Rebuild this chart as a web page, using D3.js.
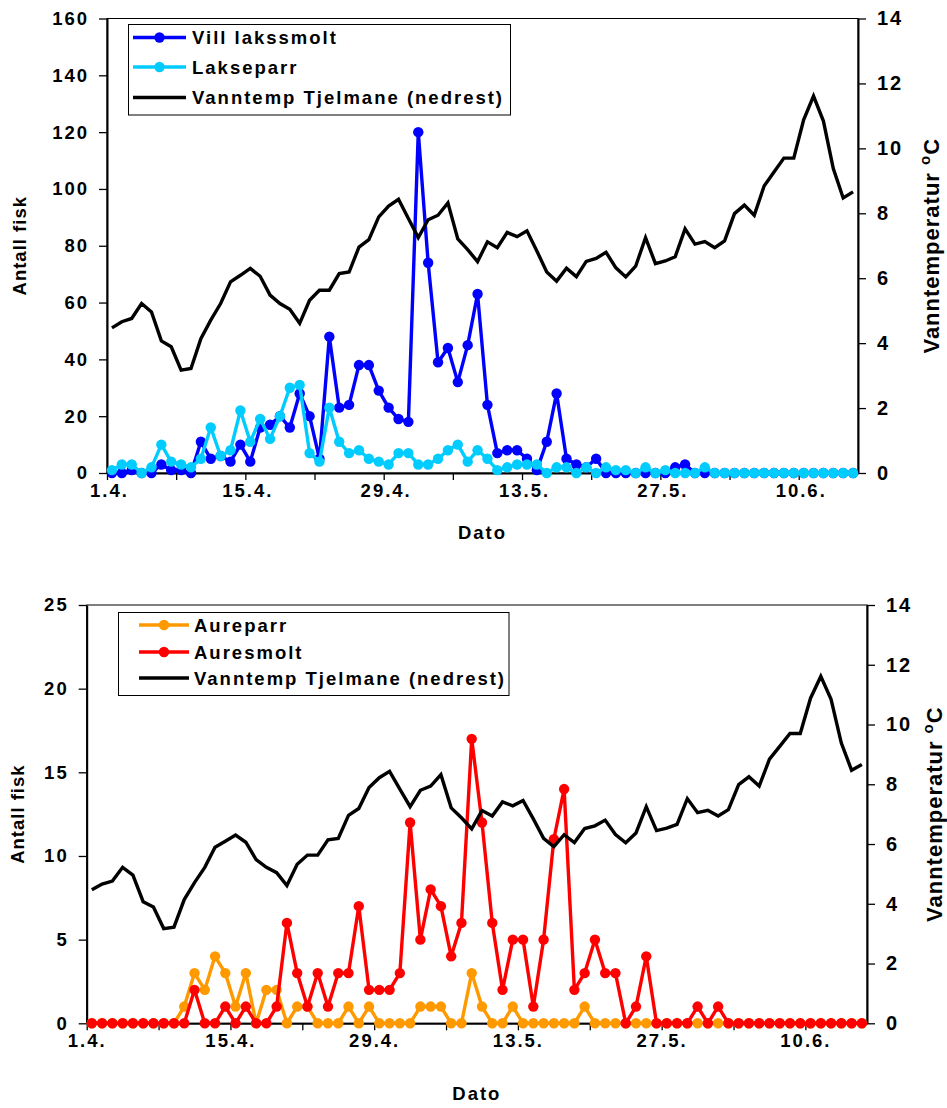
<!DOCTYPE html>
<html><head><meta charset="utf-8">
<script src="https://cdn.jsdelivr.net/npm/d3@7"></script>
<style>
body{margin:0;background:#fff;}
svg text{font-family:"Liberation Sans",Arial,sans-serif;font-weight:bold;fill:#000;}
</style></head><body>
<svg id="c" width="947" height="1108"></svg>
<script>
// ---- data ----
const dates = ["1.4.","2.4.","3.4.","4.4.","5.4.","6.4.","7.4.","8.4.","9.4.","10.4.",
"11.4.","12.4.","13.4.","14.4.","15.4.","16.4.","17.4.","18.4.","19.4.","20.4.",
"21.4.","22.4.","23.4.","24.4.","25.4.","26.4.","27.4.","28.4.","29.4.","30.4.",
"1.5.","2.5.","3.5.","4.5.","5.5.","6.5.","7.5.","8.5.","9.5.","10.5.",
"11.5.","12.5.","13.5.","14.5.","15.5.","16.5.","17.5.","18.5.","19.5.","20.5.",
"21.5.","22.5.","23.5.","24.5.","25.5.","26.5.","27.5.","28.5.","29.5.","30.5.",
"31.5.","1.6.","2.6.","3.6.","4.6.","5.6.","6.6.","7.6.","8.6.","9.6.",
"10.6.","11.6.","12.6.","13.6.","14.6.","15.6."];
const tickLabels = ["1.4.","15.4.","29.4.","13.5.","27.5.","10.6."];

const vannTemp = [4.47,4.66,4.76,5.22,4.96,4.07,3.89,3.17,3.22,4.14,
4.71,5.22,5.89,6.09,6.30,6.06,5.48,5.22,5.04,4.61,
5.32,5.63,5.63,6.14,6.19,6.96,7.19,7.89,8.22,8.43,
7.84,7.25,7.80,7.94,8.32,7.21,6.88,6.51,7.12,6.94,
7.41,7.28,7.46,6.84,6.19,5.91,6.31,6.05,6.52,6.61,
6.80,6.32,6.04,6.37,7.25,6.45,6.53,6.66,7.52,7.05,
7.13,6.94,7.15,7.99,8.25,7.94,8.84,9.27,9.70,9.70,
10.88,11.61,10.84,9.38,8.47,8.66];

const villLakssmolt = [0,0,1,0,0,3,1,1,0,11,
5,6,4,10,4,16,17,20,16,28,
20,5,48,23,24,38,38,29,23,19,
18,120,74,39,44,32,45,63,24,7,
8,8,5,1,11,28,5,3,2,5,
0,0,0,0,0,0,0,2,3,0,
0,0,0,0,0,0,0,0,0,0,
0,0,0,0,0,0];
const lakseparr = [1,3,3,0,2,10,4,3,2,5,
16,6,8,22,11,19,12,20,30,31,
7,4,23,11,7,8,5,4,3,7,
7,3,3,5,8,10,4,8,5,1,
2,3,3,3,0,2,2,0,2,0,
2,1,1,0,2,0,1,0,0,0,
2,0,0,0,0,0,0,0,0,0,
0,0,0,0,0,0];
const aureparr = [0,0,0,0,0,0,0,0,0,1,
3,2,4,3,1,3,0,2,2,0,
1,1,0,0,0,1,0,1,0,0,
0,0,1,1,1,0,0,3,1,0,
0,1,0,0,0,0,0,0,1,0,
0,0,0,0,0,0,0,0,0,0,
0,0,0,0,0,0,0,0,0,0,
0,0,0,0,0,0];
const auresmolt = [0,0,0,0,0,0,0,0,0,0,
2,0,0,1,0,1,0,0,1,6,
3,1,3,1,3,3,7,2,2,2,
3,12,5,8,7,4,6,17,12,6,
2,5,5,1,5,11,14,2,3,5,
3,3,0,1,4,0,0,0,0,1,
0,1,0,0,0,0,0,0,0,0,
0,0,0,0,0,0];

const tempName = "Vanntemp Tjelmane (nedrest)";

// ---- drawing ----
const svg = d3.select("#c");
const FS = 18.5, LS = "2px", LW = 3.4, MR = 5.2;

function panel(cfg){
  const g = svg.append("g");
  const x = d3.scaleLinear().domain([0, dates.length]).range([cfg.left, cfg.right]);
  const yL = d3.scaleLinear().domain([0, cfg.yMax]).range([cfg.bottom, cfg.top]);
  const yR = d3.scaleLinear().domain([0, 14]).range([cfg.bottom, cfg.top]);

  g.append("rect").attr("x", cfg.left).attr("y", cfg.top)
    .attr("width", cfg.right - cfg.left).attr("height", cfg.bottom - cfg.top)
    .attr("fill", "none").attr("stroke", "#000").attr("stroke-width", 1);

  const styleAxis = (ax, sw) => {
    ax.select(".domain").attr("stroke", "#000").attr("stroke-width", sw);
    ax.selectAll(".tick line").attr("stroke", "#000").attr("stroke-width", 1.3);
    ax.selectAll("text").attr("font-size", FS).attr("letter-spacing", LS)
      .attr("font-family", "Liberation Sans, Arial, sans-serif").attr("font-weight", "bold").attr("fill", "#000");
  };

  const axL = g.append("g").attr("transform", `translate(${cfg.left},0)`)
    .call(d3.axisLeft(yL).tickValues(d3.range(0, cfg.yMax + 1, cfg.yStep)).tickSize(8).tickSizeOuter(0).tickPadding(10));
  styleAxis(axL, 2);
  const axR = g.append("g").attr("transform", `translate(${cfg.right},0)`)
    .call(d3.axisRight(yR).tickValues(d3.range(0, 15, 2)).tickSize(8).tickSizeOuter(0).tickPadding(11));
  styleAxis(axR, 2);
  axR.selectAll("text").attr("font-size", 20);
  const axB = g.append("g").attr("transform", `translate(0,${cfg.bottom})`)
    .call(d3.axisBottom(x).tickValues(d3.range(0, 71, 7)).tickSize(7).tickSizeOuter(0).tickPadding(cfg.xPad)
      .tickFormat(i => tickLabels.includes(dates[i]) ? dates[i] : ""));
  styleAxis(axB, 2);
  axB.selectAll("text").attr("dx", cfg.xLabDx);

  g.append("text").attr("x", (cfg.left + cfg.right) / 2).attr("y", cfg.datoY)
    .attr("text-anchor", "middle").attr("font-size", FS).attr("letter-spacing", LS).text("Dato");
  g.append("text").attr("transform", `translate(${cfg.leftTitleX},${(cfg.top + cfg.bottom) / 2}) rotate(-90)`)
    .attr("text-anchor", "middle").attr("font-size", FS).attr("letter-spacing", "1px").text("Antall fisk");
  const rt = g.append("text").attr("transform", `translate(${cfg.rightTitleX},${(cfg.top + cfg.bottom) / 2}) rotate(-90)`)
    .attr("text-anchor", "middle").attr("font-size", 22).attr("font-weight", "normal").attr("letter-spacing", "1px");
  rt.append("tspan").text("Vanntemperatur  ");
  rt.append("tspan").attr("font-size", 15).attr("dy", -9).text("o");
  rt.append("tspan").attr("dy", 9).attr("font-weight", "bold").text("C");

  const plotG = g.append("g");
  cfg.series.forEach(s => {
    const line = d3.line().x((d, i) => x(i + 0.5)).y(d => yL(d));
    plotG.append("path").datum(s.values).attr("d", line)
      .attr("fill", "none").attr("stroke", s.color).attr("stroke-width", LW).attr("stroke-linejoin", "round");
    plotG.selectAll(null).data(s.values).enter().append("circle")
      .attr("cx", (d, i) => x(i + 0.5)).attr("cy", d => yL(d)).attr("r", MR).attr("fill", s.color);
  });
  const tline = d3.line().x((d, i) => x(i + 0.5)).y(d => yR(d));
  plotG.append("path").datum(vannTemp).attr("d", tline)
    .attr("fill", "none").attr("stroke", "#000").attr("stroke-width", LW).attr("stroke-linejoin", "miter");

  const L = cfg.legend;
  const lg = g.append("g");
  lg.append("rect").attr("x", L.x).attr("y", L.y).attr("width", L.w).attr("height", L.h)
    .attr("fill", "#fff").attr("stroke", "#000").attr("stroke-width", 1);
  const items = cfg.series.map(s => ({name: s.name, color: s.color, marker: true}))
    .concat([{name: tempName, color: "#000", marker: false}]);
  items.forEach((it, k) => {
    const yy = L.rows[k];
    lg.append("line").attr("x1", L.x0).attr("x2", L.x1).attr("y1", yy).attr("y2", yy)
      .attr("stroke", it.color).attr("stroke-width", LW);
    if (it.marker) lg.append("circle").attr("cx", (L.x0 + L.x1) / 2).attr("cy", yy).attr("r", MR).attr("fill", it.color);
    lg.append("text").attr("x", L.tx).attr("y", yy).attr("dy", "0.36em")
      .attr("font-size", FS).attr("letter-spacing", LS).text(it.name);
  });
}

panel({
  left: 107, right: 858, top: 18.5, bottom: 473, yMax: 160, yStep: 20,
  xPad: 4, xLabDx: 2, datoY: 539, leftTitleX: 26, rightTitleX: 939,
  series: [
    {name: "Vill lakssmolt", values: villLakssmolt, color: "#0000FF"},
    {name: "Lakseparr", values: lakseparr, color: "#00CCFF"}
  ],
  legend: {x: 128.5, y: 24.5, w: 382, h: 90.5, rows: [37.5, 67, 97.5], x0: 133, x1: 186, tx: 192}
});

panel({
  left: 86.7, right: 867, top: 605, bottom: 1023.3, yMax: 25, yStep: 5,
  xPad: 4, xLabDx: 0, datoY: 1100, leftTitleX: 24, rightTitleX: 942,
  series: [
    {name: "Aureparr", values: aureparr, color: "#FF9900"},
    {name: "Auresmolt", values: auresmolt, color: "#FF0000"}
  ],
  legend: {x: 118.5, y: 612.5, w: 390.5, h: 83, rows: [625, 652, 678], x0: 139, x1: 189, tx: 194}
});
</script>
</body></html>
